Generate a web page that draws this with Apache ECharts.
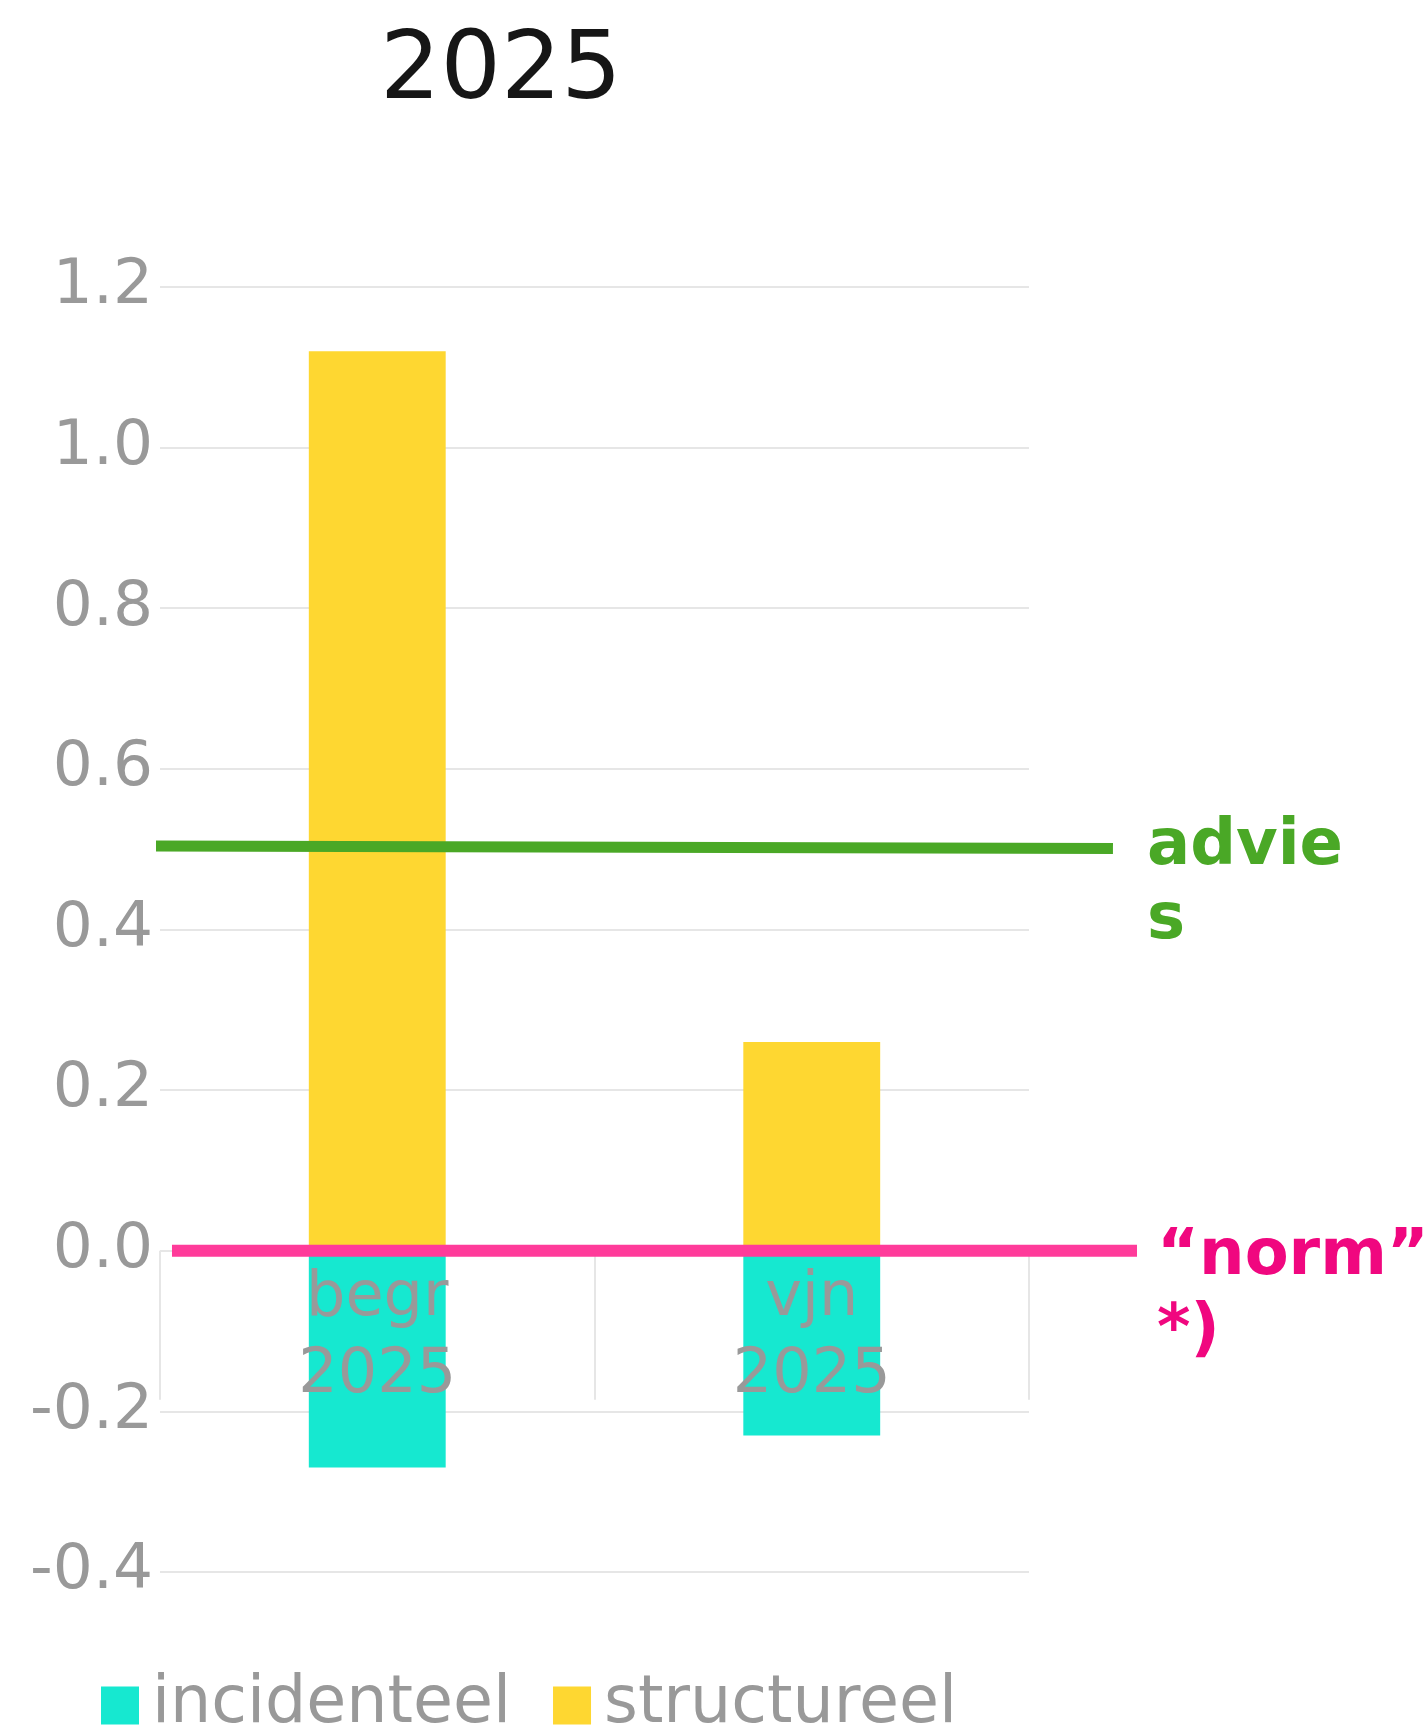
<!DOCTYPE html>
<html>
<head>
<meta charset="utf-8">
<script src="https://cdn.jsdelivr.net/npm/echarts@6/dist/echarts.min.js"></script>
<style>html,body{margin:0;padding:0;background:#fff;}#chart{width:1424px;height:1734px;}</style>
</head>
<body>
<div id="chart"></div>
<script>
var categories = ['begr\n2025', 'vjn\n2025'];
var incidenteel = [-0.27, -0.23];
var structureel = [1.12, 0.26];
var yTicks = { min: -0.4, max: 1.2, interval: 0.2 };
// reference lines: [position along hidden 0..1 overlay axis, value]
var adviesLine = [[0, 0.504], [0.9755, 0.501]];
var normLine = [[0.0163, 0], [1, 0]];

var FONT = 'DejaVu Sans';
var H = 1734, GRID_TOP = 287, GRID_BOTTOM = 162;
var plotH = H - GRID_TOP - GRID_BOTTOM;
// grid whose bottom edge sits on the zero line (for category labels)
var zeroY = GRID_TOP + plotH * (yTicks.max - 0) / (yTicks.max - yTicks.min);

var chart = echarts.init(document.getElementById('chart'), null, { renderer: 'canvas' });
chart.setOption({
  backgroundColor: '#ffffff',
  animation: false,
  title: {
    text: '2025',
    left: 375,
    top: 21,
    textStyle: { fontFamily: FONT, fontSize: 95, fontWeight: 'normal', color: '#161616' }
  },
  legend: {
    data: ['incidenteel', 'structureel'],
    left: 96,
    top: 1668,
    itemWidth: 38,
    itemHeight: 38,
    itemGap: 42,
    icon: 'rect',
    textStyle: { fontFamily: FONT, fontSize: 65, color: '#999999', padding: [0, 0, 0, 8] }
  },
  grid: [
    { left: 160, right: 395, top: GRID_TOP, bottom: GRID_BOTTOM, containLabel: false },
    { left: 156, right: 287, top: GRID_TOP, bottom: GRID_BOTTOM, containLabel: false },
    { left: 160, right: 395, top: GRID_TOP, bottom: H - zeroY, containLabel: false }
  ],
  xAxis: [{
    type: 'category',
    gridIndex: 0,
    data: categories,
    axisLine: { show: true, onZero: true, lineStyle: { color: '#e6e6e6', width: 2, opacity: 0 } },
    axisTick: { show: true, length: 149, lineStyle: { color: '#e6e6e6', width: 2 } },
    axisLabel: { show: false },
    splitLine: { show: false }
  }, {
    type: 'value', gridIndex: 1, min: 0, max: 1, show: false
  }, {
    type: 'category',
    gridIndex: 2,
    data: categories,
    z: 5,
    axisLine: { show: false, onZero: false },
    axisTick: { show: false },
    axisLabel: { fontFamily: FONT, fontSize: 62, color: '#999999', lineHeight: 77, margin: 10 },
    splitLine: { show: false }
  }],
  yAxis: [{
    type: 'value',
    gridIndex: 0,
    min: yTicks.min, max: yTicks.max, interval: yTicks.interval,
    axisLine: { show: false },
    axisTick: { show: false },
    axisLabel: { fontFamily: FONT, fontSize: 63, color: '#999999', margin: 7, padding: [7, 0, 0, 0],
      formatter: function (v) { return v.toFixed(1); } },
    splitLine: { lineStyle: { color: '#e6e6e6', width: 2 } }
  }, {
    type: 'value', gridIndex: 1,
    min: yTicks.min, max: yTicks.max, interval: yTicks.interval, show: false
  }, {
    type: 'value', gridIndex: 2, min: 0, max: 1, show: false
  }],
  series: [{
    name: 'incidenteel', type: 'bar', stack: 'a', barWidth: '31.5%',
    itemStyle: { color: '#16e8d0' }, data: incidenteel
  }, {
    name: 'structureel', type: 'bar', stack: 'a', barWidth: '31.5%',
    itemStyle: { color: '#fed731' }, data: structureel
  }, {
    name: 'advies', type: 'line', xAxisIndex: 1, yAxisIndex: 1, clip: false, symbol: 'none', z: 6,
    lineStyle: { color: '#4aa826', width: 11 },
    data: adviesLine,
    endLabel: { show: true, formatter: 'advies', distance: 34, width: 212, overflow: 'breakAll',
      fontFamily: FONT, fontSize: 64, fontWeight: 'bold', color: '#4aa826', lineHeight: 74,
      verticalAlign: 'top', offset: [0, -38] }
  }, {
    name: 'norm', type: 'line', xAxisIndex: 1, yAxisIndex: 1, clip: false, symbol: 'none', z: 7,
    lineStyle: { color: '#ff3b9a', width: 12 },
    data: normLine,
    endLabel: { show: true, formatter: '\u201cnorm\u201d\n*)', distance: 20,
      fontFamily: FONT, fontSize: 64, fontWeight: 'bold', color: '#f0077f', lineHeight: 75,
      verticalAlign: 'top', offset: [0, -31] }
  }]
});
</script>
</body>
</html>
